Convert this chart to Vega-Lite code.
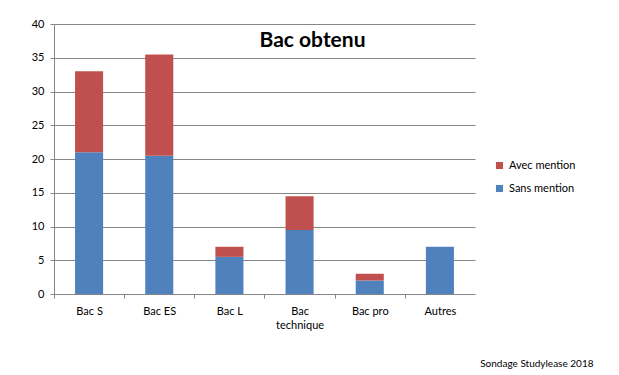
{
  "$schema": "https://vega.github.io/schema/vega-lite/v6.json",
  "width": 421,
  "height": 270,
  "autosize": "none",
  "padding": {"left": 54, "top": 24, "right": 144, "bottom": 81},
  "background": "white",
  "config": {
    "font": "Lato",
    "view": {"stroke": null}
  },
  "title": {
    "text": "Bac obtenu",
    "font": "Lato",
    "fontSize": 21,
    "fontWeight": "bold",
    "color": "black",
    "anchor": "middle",
    "frame": "group",
    "dx": 48,
    "offset": -33
  },
  "data": {
    "values": [
      {"bac": "Bac S", "type": "Sans mention", "n": 21, "ord": 1},
      {"bac": "Bac S", "type": "Avec mention", "n": 12, "ord": 2},
      {"bac": "Bac ES", "type": "Sans mention", "n": 20.5, "ord": 1},
      {"bac": "Bac ES", "type": "Avec mention", "n": 15, "ord": 2},
      {"bac": "Bac L", "type": "Sans mention", "n": 5.5, "ord": 1},
      {"bac": "Bac L", "type": "Avec mention", "n": 1.5, "ord": 2},
      {"bac": "Bac technique", "type": "Sans mention", "n": 9.5, "ord": 1},
      {"bac": "Bac technique", "type": "Avec mention", "n": 5, "ord": 2},
      {"bac": "Bac pro", "type": "Sans mention", "n": 2, "ord": 1},
      {"bac": "Bac pro", "type": "Avec mention", "n": 1, "ord": 2},
      {"bac": "Autres", "type": "Sans mention", "n": 7, "ord": 1},
      {"bac": "Autres", "type": "Avec mention", "n": 0, "ord": 2}
    ]
  },
  "mark": {"type": "bar"},
  "encoding": {
    "x": {
      "field": "bac",
      "type": "nominal",
      "sort": null,
      "scale": {"paddingInner": 0.6, "paddingOuter": 0.3},
      "axis": {
        "title": "Sondage Studylease 2018",
        "titleFont": "Lato",
        "titleFontSize": 10,
        "titleFontWeight": "normal",
        "titleColor": "black",
        "titleAnchor": "end",
        "titleAlign": "right",
        "titleBaseline": "alphabetic",
        "titleX": 539,
        "titleY": 72,
        "labelAngle": 0,
        "labelFontSize": 11,
        "labelColor": "black",
        "labelPadding": 7,
        "labelLineHeight": 14,
        "labelOffset": 35.1,
        "labelExpr": "datum.label == 'Bac technique' ? ['Bac', 'technique'] : datum.label",
        "domainColor": "#868686",
        "tickColor": "#868686",
        "tickSize": 4,
        "tickOffset": -35.1,
        "grid": false
      }
    },
    "y": {
      "field": "n",
      "type": "quantitative",
      "stack": "zero",
      "scale": {"domain": [0, 40], "nice": false},
      "axis": {
        "title": null,
        "values": [0, 5, 10, 15, 20, 25, 30, 35, 40],
        "labelFontSize": 11,
        "labelColor": "black",
        "labelPadding": 6,
        "domainColor": "#868686",
        "tickColor": "#868686",
        "tickSize": 4,
        "gridColor": "#868686",
        "gridWidth": 1
      }
    },
    "color": {
      "field": "type",
      "type": "nominal",
      "scale": {"domain": ["Avec mention", "Sans mention"], "range": ["#C0504D", "#4F81BD"]},
      "legend": {
        "title": null,
        "orient": "none",
        "legendX": 440,
        "legendY": 136,
        "symbolType": "square",
        "symbolSize": 50,
        "symbolStrokeWidth": 0,
        "labelFontSize": 11,
        "labelColor": "black",
        "labelOffset": 4,
        "rowPadding": 11
      }
    },
    "order": {"field": "ord", "type": "quantitative"}
  }
}
